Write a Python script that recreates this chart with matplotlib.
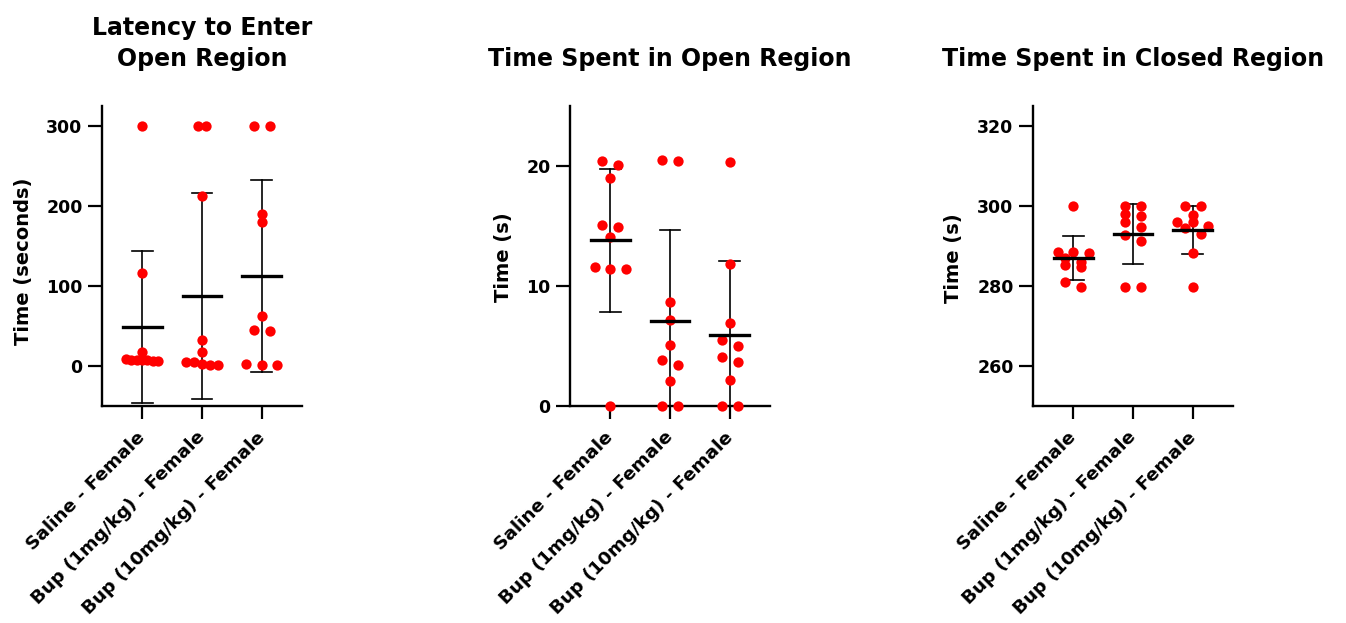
import numpy as np
import matplotlib
matplotlib.use("Agg")
from matplotlib import pyplot as plt

groups = ["Saline - Female", "Bup (1mg/kg) - Female", "Bup (10mg/kg) - Female"]

# latency to enter open region (s)
latency_saline = [300, 116, 18, 8, 7, 9, 6, 8, 7, 6]
latency_bup1 = [300, 300, 212, 33, 17, 1, 5.5, 2.5, 5, 1]
latency_bup10 = [300, 300, 190, 180, 63, 45, 44, 1, 3, 1]

# time spent in open region (s)
open_saline = [20.4, 20.1, 19.0, 15.1, 14.9, 14.1, 11.6, 11.4, 11.4, 0]
open_bup1 = [20.5, 20.4, 8.7, 7.2, 5.1, 3.8, 3.4, 2.1, 0, 0]
open_bup10 = [20.3, 11.8, 6.9, 5.5, 5.0, 4.1, 3.7, 2.2, 0, 0]

# time spent in closed region (s)
closed_saline = [300, 288.6, 288.6, 288.3, 286.9, 286.0, 285.3, 284.7, 281.0, 279.8]
closed_bup1 = [300, 300, 297.9, 297.5, 296.1, 294.8, 292.7, 291.3, 279.8, 279.8]
closed_bup10 = [300, 300, 297.7, 296.1, 295.9, 294.9, 294.5, 293.0, 288.2, 279.8]

plt.rcParams["font.family"] = ["DejaVu Sans"]
plt.rcParams["font.weight"] = "bold"

W, H = 1346, 623


def swarm(ax, vals, step_px=15.5, width_px=32.0, row_px=6.0):
    # spread points that share a row sideways, like a prism scatter
    vals = np.asarray(vals, float)
    ypix = ax.transData.transform(np.column_stack([np.zeros_like(vals), vals]))[:, 1]
    x0 = ax.transData.transform([[0, 0]])[0, 0]
    x1 = ax.transData.transform([[1, 0]])[0, 0]
    order = np.argsort(-ypix, kind="stable")
    rows = []
    for i in order:
        if rows and abs(ypix[rows[-1][0]] - ypix[i]) <= row_px:
            rows[-1].append(i)
        else:
            rows.append([i])
    widest = max(len(r) for r in rows)
    step = step_px if widest < 2 else min(step_px, width_px / (widest - 1))
    offs = np.zeros_like(vals)
    for row in rows:
        n = len(row)
        for k, i in enumerate(row):
            offs[i] = (k - (n - 1) / 2) * step
    return offs / (x1 - x0)


panels = [
    ("Latency to Enter\nOpen Region", "Time (seconds)",
     [latency_saline, latency_bup1, latency_bup10], (-50, 325), [0, 100, 200, 300], 102, (-0.345, 0.481)),
    ("Time Spent in Open Region", "Time (s)",
     [open_saline, open_bup1, open_bup10], (0, 25), [0, 10, 20], 570, (-0.285, 0.497)),
    ("Time Spent in Closed Region", "Time (s)",
     [closed_saline, closed_bup1, closed_bup10], (250, 325), [260, 280, 300, 320], 1033, (-0.35, 0.493)),
]

fig = plt.figure(figsize=(W / 100, H / 100), dpi=100)

for title, ylabel, data, ylim, yticks, left, lab in panels:
    ax = fig.add_axes([left / W, 217 / H, 200 / W, 300 / H])
    ax.set_xlim(-0.667, 2.667)
    ax.set_ylim(*ylim)
    ax.set_yticks(yticks)
    ax.set_xticks(range(len(groups)))
    ax.set_xticklabels(groups, rotation=45, ha="right", va="center",
                       rotation_mode="anchor", fontsize=13.3, fontweight="bold")
    ax.tick_params(axis="y", length=10, width=1.6, labelsize=12.5, pad=4)
    ax.tick_params(axis="x", length=9.5, width=1.6, pad=11)
    for s in ["top", "right"]:
        ax.spines[s].set_visible(False)
    for s in ["left", "bottom"]:
        ax.spines[s].set_linewidth(1.7)

    for j, vals in enumerate(data):
        m = np.mean(vals)
        sd = np.std(vals, ddof=1)
        ax.plot([j, j], [m - sd, m + sd], color="k", lw=1.2, zorder=2)
        for yy in (m - sd, m + sd):
            ax.plot([j - 0.175, j + 0.175], [yy, yy], color="k", lw=1.2, zorder=2)
        ax.plot([j - 0.325, j + 0.325], [m, m], color="k", lw=2.4, zorder=4)
        ax.scatter(j + swarm(ax, vals), vals, s=55, color="#ff0000",
                   linewidths=0, zorder=3, clip_on=False)

    ax.set_title(title, fontsize=17, fontweight="bold", pad=29, linespacing=1.37)
    ax.set_ylabel(ylabel, fontsize=14, fontweight="bold")
    ax.yaxis.set_label_coords(*lab)

fig.savefig("out.png", dpi=100)
